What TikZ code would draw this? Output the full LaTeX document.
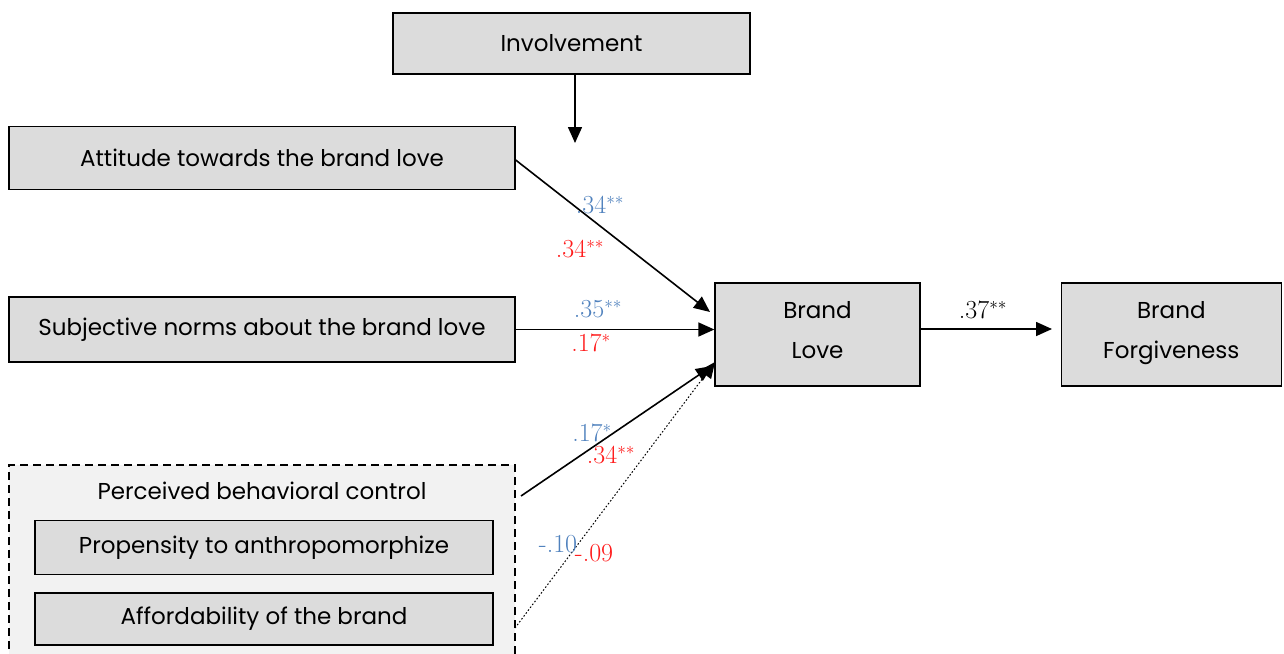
\documentclass[tikz,border=0pt]{standalone}
\usepackage{fontspec}
\setmainfont{Latin Modern Roman}
\newfontfamily\gothic{Poppins}
\usetikzlibrary{arrows.meta,positioning}
\definecolor{boxgray}{HTML}{DCDCDC}
\definecolor{pbcgray}{HTML}{F2F2F2}
\definecolor{coefblue}{HTML}{4F81BD}
\definecolor{coefred}{HTML}{FF1A1A}

\begin{document}
\begin{tikzpicture}[
        x=1pt, y=-1pt,
        box/.style={draw, line width=1.3pt, fill=boxgray, inner sep=0pt, align=center,
            font=\gothic\fontsize{23}{27}\selectfont},
        wide/.style={box, minimum width=506pt, minimum height=63pt},
        inner/.style={box, minimum width=458pt, minimum height=54pt},
        lovebox/.style={box, minimum height=103pt},
        coef/.style={inner sep=0pt, font=\fontsize{26}{30}\selectfont},
        blue/.style={coef, text=coefblue},
        red/.style={coef, text=coefred},
        link/.style={line width=1.6pt, -{Triangle[length=16pt,width=14pt]}}
    ]
    \useasboundingbox (0,0) rectangle (1284,653);

    % Group
    \draw[dash pattern=on 8pt off 5pt, fill=pbcgray, line width=1.3pt]
        (9,662) -- (9,465) -- (515,465) -- (515,662);
    \node (pbc)[inner sep=0pt, font=\gothic\fontsize{23}{27}\selectfont] at (262,491) {Perceived behavioral control};

    % Nodes
    \node (inv)[box, minimum width=357pt, minimum height=61pt] at (571.5,43.5) {Involvement};
    \node (att)[wide] at (262,158) {Attitude towards the brand love};
    \node (sub)[wide, minimum height=65pt] at (262,329.5) {Subjective norms about the brand love};
    \node (pro)[inner] at (264,547.5) {Propensity to anthropomorphize};
    \node (aff)[inner, minimum height=52pt] at (264,619) {Affordability of the brand};
    \node (love)[lovebox, minimum width=205pt] at (817.5,334.5) {Brand\\[13pt]Love\rule[-9pt]{0pt}{0pt}};
    \node (forg)[lovebox, minimum width=220pt, right=140pt of love] {Brand\\[13pt]Forgiveness\rule[-9pt]{0pt}{0pt}};

    \coordinate (invend) at (575,143);
    \coordinate (pbcout) at (521,496);
    \coordinate (affout) at (515,628);

    % Edges
    \draw[link] (inv.south -| invend) -- (invend);
    \draw[link] (att.east |- 0,160) -- (710,312);
    \draw[link] (sub.east) -- (sub.east -| love.west);
    \draw[link] (pbcout) -- (712,366);
    \draw[link, dotted, line width=1pt] (affout) -- (715,362);
    \draw[link] (love.east |- 0,329) -- (1052,329);

    % Coefficients
    \node[blue] at (600,205) {.34$^{**}$};
    \node[red] at (580,249) {.34$^{**}$};
    \node[blue] at (598,309) {.35$^{**}$};
    \node[red] at (591,343) {.17$^{*}$};
    \node[blue] at (592,433) {.17$^{*}$};
    \node[red] at (611,455) {.34$^{**}$};
    \node[blue] at (558,544) {-.10};
    \node[red] at (594,553) {-.09};
    \node[coef] at (983,310) {.37$^{**}$};
\end{tikzpicture}
\end{document}
